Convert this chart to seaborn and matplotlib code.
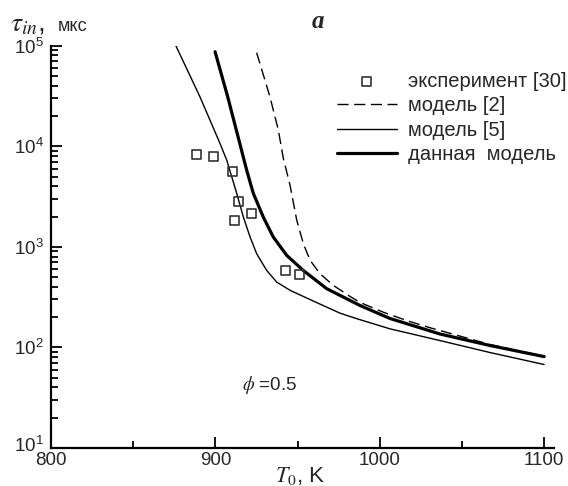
import numpy as np
import pandas as pd
import matplotlib
matplotlib.use('Agg')
import matplotlib.pyplot as plt
import matplotlib.transforms as mtransforms
import seaborn as sns

# experiment [30]
exp_T = [888.6, 898.7, 910.5, 913.9, 911.9, 922.1, 942.9, 951.0]
exp_tau = [8340, 7960, 5650, 2840, 1837, 2140, 583, 532]

# model [2] (dashed)
m2_T = [925.1, 933.2, 938.3, 941.3, 945.4, 949.5, 953.5, 957.6, 963.6, 971.7,
        976.8, 981.9, 988.0, 1002.1, 1016.4, 1030.5, 1067.0, 1100.0]
m2_tau = [85100, 31000, 14450, 7620, 4100, 1837, 1076, 735, 541, 414,
          365, 321, 280, 224, 185, 157, 107, 81.5]

# model [5] (thin)
m5_T = [876.0, 890.6, 902.8, 906.9, 913.0, 917.0, 921.1, 925.1, 931.2, 937.3,
        945.4, 955.5, 975.8, 986.0, 1006.2, 1036.6, 1067.0, 1100.0]
m5_tau = [99500, 31050, 10670, 7280, 3390, 1982, 1253, 855, 583, 446,
          370, 310, 219, 193, 153, 117, 89, 67.6]

# this model (thick)
m0_T = [899.8, 907.5, 919.2, 923.1, 929.1, 935.2, 943.4, 953.5, 967.7, 988.0,
        1006.2, 1036.6, 1067.0, 1100.0]
m0_tau = [87100, 31000, 5650, 3390, 1982, 1253, 822, 582, 384, 261,
          194, 136, 104.5, 81]

sns.set_style('ticks')
plt.rcParams['font.family'] = ['Liberation Sans', 'DejaVu Sans']
plt.rcParams['mathtext.fontset'] = 'stix'

fig = plt.figure(figsize=(5.68, 4.86), dpi=100)
ax = fig.add_axes([0.0898, 0.0782, 0.8856, 0.8278])

sns.scatterplot(x=exp_T, y=exp_tau, ax=ax, marker='s', s=42,
                facecolors='none', edgecolors='#333333', linewidth=1.2,
                label='эксперимент [30]', zorder=5)
sns.lineplot(x=m2_T, y=m2_tau, ax=ax, sort=False, color='k', lw=1.0,
             linestyle=(0, (8, 4)), label='модель [2]')
sns.lineplot(x=m5_T, y=m5_tau, ax=ax, sort=False, color='k', lw=1.0,
             label='модель [5]')
sns.lineplot(x=m0_T, y=m0_tau, ax=ax, sort=False, color='k', lw=2.3,
             label='данная  модель')

ax.set_yscale('log')
ax.set_xlim(800, 1106)
ax.set_ylim(10, 1e5)
ax.set_xticks([800, 900, 1000, 1100])
ax.set_xticks([850, 950, 1050], minor=True)
ax.set_yticks([10, 100, 1000, 10000, 100000])
ax.set_xlabel('')
ax.set_ylabel('')
ax.tick_params(which='both', direction='in', color='k', width=1.3, labelsize=13.5)
ax.tick_params(which='major', length=8)
ax.tick_params(which='minor', length=5)
ax.tick_params(axis='x', pad=3)
ax.tick_params(axis='y', pad=5)
for side in ['top', 'right']:
    ax.spines[side].set_visible(False)
for side in ['left', 'bottom']:
    ax.spines[side].set_linewidth(1.6)
    ax.spines[side].set_color('k')

# lift the lowest label (10^1) so it clears the 800 label
shift = mtransforms.ScaledTranslation(0, 3 / 72, fig.dpi_scale_trans)
lbl = ax.get_yticklabels()[0]
lbl.set_transform(lbl.get_transform() + shift)

ax.legend(loc='upper left', bbox_to_anchor=(336.7 / 568, 1 - 72 / 486),
          bbox_transform=fig.transFigure, frameon=False, fontsize=14.5,
          handlelength=2.98, handletextpad=0.56, labelspacing=0.27,
          borderpad=0, borderaxespad=0)

ax.text(916, 42, r'$\phi$ =0.5', fontsize=13.5, va='center', ha='left')

fig.text(10 / 568, 1 - 31 / 486, r'$\tau_{in}$,', fontsize=20, va='baseline')
fig.text(58 / 568, 1 - 31 / 486, 'мкс', fontsize=13, va='baseline')
fig.text(300 / 568, 1 - 482 / 486, r'$T_0$, K', fontsize=16, va='baseline', ha='center')
fig.text(318 / 568, 1 - 28 / 486, 'a', fontsize=18, fontstyle='italic',
         fontweight='bold', family='Liberation Serif', va='baseline', ha='center')

fig.savefig('out.png', dpi=100)
